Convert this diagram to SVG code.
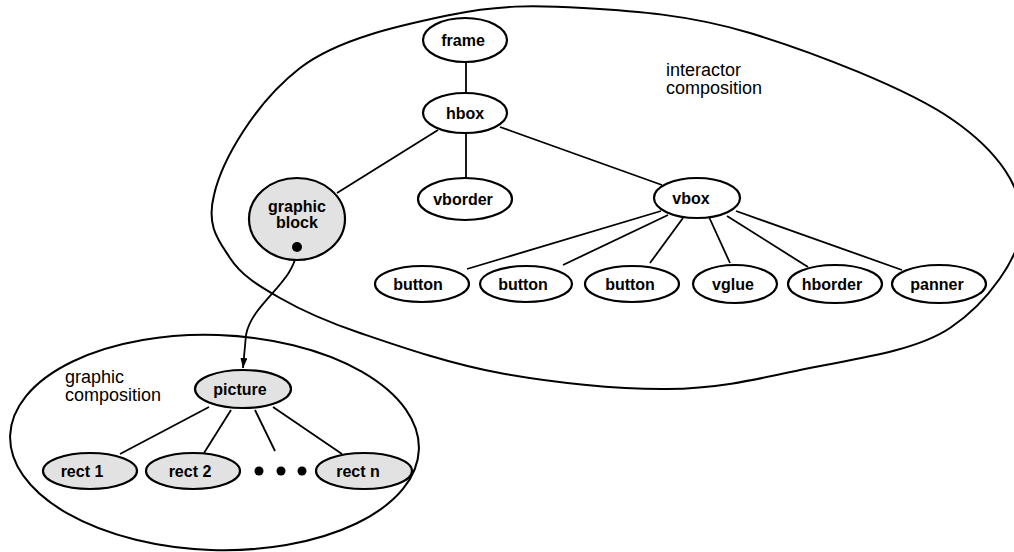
<svg xmlns="http://www.w3.org/2000/svg" width="1014" height="552" viewBox="0 0 1014 552">
<defs>
<style>
.n{fill:#ffffff;stroke:#000;stroke-width:2.2}
.g{fill:#e2e2e2;stroke:#000;stroke-width:2.2}
.t{font-family:"Liberation Sans",Arial,sans-serif;font-size:16px;font-weight:bold;text-anchor:middle;fill:#000}
.lbl{font-family:"Liberation Sans",Arial,sans-serif;font-size:18px;fill:#000}
.c{stroke:#000;stroke-width:1.8;fill:none}
.reg{fill:none;stroke:#000;stroke-width:2}
</style>
<marker id="ah" markerWidth="10" markerHeight="8" refX="10" refY="3.5" orient="auto" markerUnits="userSpaceOnUse">
<path d="M0,0 L10,3.5 L0,7 z" fill="#000"/>
</marker>
</defs>
<rect width="1014" height="552" fill="#fff"/>
<g id="regions">
<path class="reg" d="M214,195 C222,160 255,103 300,68 C339.3,38 402.8,25 450,15 C497.2,5 533,5 583,8 C633,11 688.3,14.3 750,33 C811.7,51.7 907.7,88.5 953,120 C998.3,151.5 1022.5,187.3 1022,222 C1021.5,256.7 987,303.3 950,328 C913,352.7 847.2,359.8 800,370 C752.8,380.2 717,388.5 667,389 C617,389.5 551.2,382.3 500,373 C448.8,363.7 396.7,345.5 360,333 C323.3,320.5 301.7,310.5 280,298 C258.3,285.5 241,275.2 230,258 C219,240.8 206,226.7 214,195 Z"/>
<ellipse class="reg" cx="214.5" cy="442.5" rx="204.5" ry="107.5" transform="rotate(2 214.5 442.5)"/>
<text class="lbl" x="666" y="76">interactor</text>
<text class="lbl" x="666" y="94">composition</text>
<text class="lbl" x="65" y="383">graphic</text>
<text class="lbl" x="65" y="401">composition</text>
</g>
<g id="connectors">
<line class="c" x1="466" y1="62" x2="466" y2="93"/>
<line class="c" x1="438" y1="130" x2="337" y2="193"/>
<line class="c" x1="466" y1="133" x2="466" y2="178"/>
<line class="c" x1="500" y1="127" x2="662" y2="185"/>
<line class="c" x1="661" y1="211" x2="467" y2="269"/>
<line class="c" x1="668" y1="215" x2="563" y2="265"/>
<line class="c" x1="683" y1="218" x2="650" y2="263"/>
<line class="c" x1="709" y1="217" x2="730" y2="263"/>
<line class="c" x1="727" y1="216" x2="808" y2="267"/>
<line class="c" x1="736" y1="211" x2="902" y2="270"/>
<line class="c" x1="209" y1="407" x2="120" y2="454"/>
<line class="c" x1="231" y1="410" x2="204" y2="453"/>
<line class="c" x1="255" y1="410" x2="275" y2="451"/>
<line class="c" x1="273" y1="407" x2="342" y2="454"/>
<path class="c" d="M297,247 C297,282 252,302 246,335 L243,368" marker-end="url(#ah)"/>
</g>
<g id="frame"><ellipse class="n" cx="465" cy="40" rx="42" ry="22"/><text class="t" x="463" y="46">frame</text></g>
<g id="hbox"><ellipse class="n" cx="465" cy="113" rx="42" ry="20"/><text class="t" x="465" y="119">hbox</text></g>
<g id="graphic-block"><ellipse class="g" cx="297" cy="219" rx="48" ry="41"/><text class="t" x="297" y="212">graphic</text><text class="t" x="297" y="228">block</text><circle cx="297" cy="247" r="5" fill="#000"/></g>
<g id="vborder"><ellipse class="n" cx="465" cy="199" rx="47" ry="21"/><text class="t" x="463" y="205">vborder</text></g>
<g id="vbox"><ellipse class="n" cx="697" cy="198" rx="43" ry="20"/><text class="t" x="691" y="204">vbox</text></g>
<g id="button1"><ellipse class="n" cx="422" cy="284" rx="47" ry="18"/><text class="t" x="418" y="290">button</text></g>
<g id="button2"><ellipse class="n" cx="526" cy="284" rx="46" ry="18"/><text class="t" x="523" y="290">button</text></g>
<g id="button3"><ellipse class="n" cx="632" cy="284" rx="47" ry="18"/><text class="t" x="630" y="290">button</text></g>
<g id="vglue"><ellipse class="n" cx="735" cy="284" rx="42" ry="19"/><text class="t" x="733" y="290">vglue</text></g>
<g id="hborder"><ellipse class="n" cx="835" cy="284" rx="47" ry="19"/><text class="t" x="832" y="290">hborder</text></g>
<g id="panner"><ellipse class="n" cx="939" cy="284" rx="47" ry="19"/><text class="t" x="937" y="290">panner</text></g>
<g id="picture"><ellipse class="g" cx="243" cy="389" rx="48" ry="19"/><text class="t" x="240" y="395">picture</text></g>
<g id="rect1"><ellipse class="g" cx="90" cy="471" rx="47" ry="18"/><text class="t" x="82" y="477">rect 1</text></g>
<g id="rect2"><ellipse class="g" cx="193" cy="471" rx="47" ry="18"/><text class="t" x="190" y="477">rect 2</text></g>
<g id="ellipsis"><circle cx="259" cy="471" r="4.5" fill="#000"/><circle cx="281" cy="471" r="4.5" fill="#000"/><circle cx="302" cy="471" r="4.5" fill="#000"/></g>
<g id="rectn"><ellipse class="g" cx="364" cy="471" rx="48" ry="18"/><text class="t" x="358" y="477">rect n</text></g>
</svg>
